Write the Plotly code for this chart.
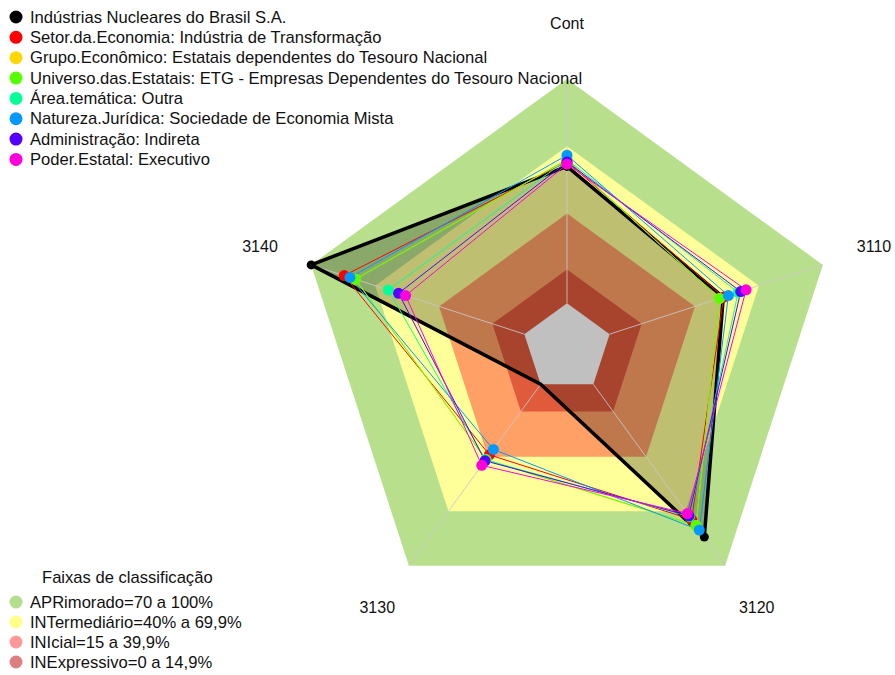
import plotly.graph_objects as go

categories = ["Cont", "3110", "3120", "3130", "3140"]

series_names = [
    "Indústrias Nucleares do Brasil S.A.",
    "Setor.da.Economia: Indústria de Transformação",
    "Grupo.Econômico: Estatais dependentes do Tesouro Nacional",
    "Universo.das.Estatais: ETG - Empresas Dependentes do Tesouro Nacional",
    "Área.temática: Outra",
    "Natureza.Jurídica: Sociedade de Economia Mista",
    "Administração: Indireta",
    "Poder.Estatal: Executivo",
]
series_colors = ["#000000", "#FF0000", "#FFD700", "#55FF00", "#00FF99",
                 "#0099FF", "#5500FF", "#FF00DD"]

nucleares = [61, 53.3, 84.2, 0, 100]
setor = [63, 53.5, 74.6, 38.9, 84.5]
grupo = [64, 51.5, 77.9, 41.5, 79.3]
universo = [64, 51.5, 77.9, 41.5, 79.3]
area = [64, 60.3, 73, 41.8, 63.8]
natureza = [66, 55.7, 80.4, 35.9, 81.8]
administracao = [63, 61.5, 72.5, 42.2, 59]
poder = [62, 64, 71.3, 44.7, 55.7]
series_values = [nucleares, setor, grupo, universo, area, natureza, administracao, poder]

band_title = "Faixas de classificação"
band_names = ["APRimorado=70 a 100%", "INTermediário=40% a 69,9%",
              "INIcial=15 a 39,9%", "INExpressivo=0 a 14,9%"]
band_upper = [100, 70, 40, 15]
band_fill_colors = ["#B8E08C", "#FFFF99", "#FFA066", "#E05A3C"]
band_legend_colors = ["#B5DE8C", "#FFFF88", "#FF9999", "#DD7F80"]
hole_value = 0
radial_min = -20
radial_max = 125
label_radius = 124

closed_theta = categories + [categories[0]]


def closed(vals):
    return list(vals) + [vals[0]]


fig = go.Figure()

# classification bands
for up, col in zip(band_upper, band_fill_colors):
    fig.add_trace(go.Scatterpolar(
        r=closed([up] * len(categories)), theta=closed_theta,
        mode="lines", fill="toself", fillcolor=col,
        line=dict(width=0, color=col), showlegend=False, hoverinfo="skip"))

# fill of the main company polygon
fig.add_trace(go.Scatterpolar(
    r=closed(nucleares), theta=closed_theta, mode="lines", fill="toself",
    fillcolor="rgba(0,0,0,0.25)", line=dict(width=0, color="rgba(0,0,0,0)"),
    showlegend=False, hoverinfo="skip"))

# central gray area
fig.add_trace(go.Scatterpolar(
    r=closed([hole_value] * len(categories)), theta=closed_theta,
    mode="lines", fill="toself", fillcolor="#C0C0C0",
    line=dict(width=0, color="#C0C0C0"), showlegend=False, hoverinfo="skip"))

# spokes
for c in categories:
    fig.add_trace(go.Scatterpolar(
        r=[hole_value, band_upper[0]], theta=[c, c], mode="lines",
        line=dict(width=1, color="rgba(200,200,200,0.85)"),
        showlegend=False, hoverinfo="skip"))

# series lines
for i, (vals, col) in enumerate(zip(series_values, series_colors)):
    fig.add_trace(go.Scatterpolar(
        r=closed(vals), theta=closed_theta, mode="lines",
        line=dict(width=3.5 if i == 0 else 1, color=col),
        showlegend=False, hoverinfo="skip"))

# series markers
for i, (name, vals, col) in enumerate(zip(series_names, series_values, series_colors)):
    fig.add_trace(go.Scatterpolar(
        r=vals, theta=categories, mode="markers", name=name,
        marker=dict(size=9 if i == 0 else 11, color=col),
        showlegend=False))

# category labels placed outside the pentagon
fig.add_trace(go.Scatterpolar(
    r=[label_radius] * len(categories), theta=categories, mode="text",
    text=categories, textposition="middle center", cliponaxis=False,
    textfont=dict(family="Liberation Sans, Arial, sans-serif", size=16, color="#111"),
    showlegend=False, hoverinfo="skip"))

W, H = 895, 675
cx, cy = 567, 348
px_per_unit = 269 / (100 - radial_min)
R = (radial_max - radial_min) * px_per_unit

# custom legends (tight row spacing like the reference)
LEG_FONT = dict(family="Liberation Sans, Arial, sans-serif", size=16.6, color="#111")
sym_x, text_x, sym_r = 16, 28, 6.5
annotations = []
shapes = []


def legend_row(name, col, yc):
    shapes.append(dict(type="circle", xref="paper", yref="paper",
                       x0=(sym_x - sym_r) / W, x1=(sym_x + sym_r) / W,
                       y0=1 - (yc + sym_r) / H, y1=1 - (yc - sym_r) / H,
                       fillcolor=col, line=dict(width=0), layer="above"))
    annotations.append(dict(text=name, xref="paper", yref="paper",
                            x=text_x / W, y=1 - yc / H, xanchor="left",
                            yanchor="middle", showarrow=False, font=LEG_FONT))


top_row, row_step = 17, 20.35
for i, (name, col) in enumerate(zip(series_names, series_colors)):
    legend_row(name, col, top_row + i * row_step)

band_title_y, band_row0, band_step = 577, 602, 20
annotations.append(dict(text=band_title, xref="paper", yref="paper",
                        x=128 / W, y=1 - band_title_y / H, xanchor="center",
                        yanchor="middle", showarrow=False, font=LEG_FONT))
for i, (name, col) in enumerate(zip(band_names, band_legend_colors)):
    legend_row(name, col, band_row0 + i * band_step)

fig.update_layout(
    width=W, height=H,
    margin=dict(l=0, r=0, t=0, b=0, autoexpand=False),
    paper_bgcolor="white",
    showlegend=False,
    font=dict(family="Liberation Sans, Arial, sans-serif", size=16, color="#111"),
    polar=dict(
        domain=dict(x=[(cx - R) / W, (cx + R) / W],
                    y=[1 - (cy + R) / H, 1 - (cy - R) / H]),
        bgcolor="rgba(0,0,0,0)",
        gridshape="linear",
        radialaxis=dict(range=[radial_min, radial_max], visible=False, showgrid=False),
        angularaxis=dict(
            rotation=90, direction="clockwise", showgrid=False, showline=False,
            ticks="", showticklabels=False,
            categoryorder="array", categoryarray=categories),
    ),
    annotations=annotations,
    shapes=shapes,
)

fig.write_html("out.html", config={"displayModeBar": False},
               post_script="document.body.style.margin='0';document.body.style.padding='0';")
